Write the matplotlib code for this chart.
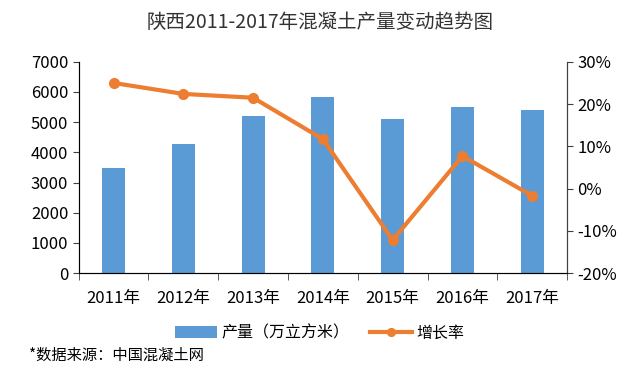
import matplotlib
matplotlib.use("Agg")
import matplotlib.pyplot as plt
import numpy as np

plt.rcParams['font.family'] = ['Noto Sans CJK SC', 'DejaVu Sans']

years = ['2011年', '2012年', '2013年', '2014年', '2015年', '2016年', '2017年']
production = [3480, 4280, 5200, 5820, 5110, 5500, 5410]
growth = [25.0, 22.4, 21.5, 11.7, -12.2, 7.7, -1.7]

bar_color = '#5B9BD5'
line_color = '#ED7D31'

fig = plt.figure(figsize=(6.4, 3.68), dpi=100)
ax = fig.add_axes([0.123, 0.258, 0.763, 0.574])
x = np.arange(len(years))
bars = ax.bar(x, production, width=0.33, color=bar_color, label='产量（万立方米）', zorder=2)
ax.set_xlim(-0.5, len(years) - 0.5)
ax.set_ylim(0, 7000)
ax.set_yticks(range(0, 7001, 1000))
ax.tick_params(axis='y', labelsize=12, length=4, direction='out', color='#404040')
ax.set_xticks(x)
ax.set_xticklabels(years, fontsize=12)
ax.set_xticks(np.arange(-0.5, len(years), 1), minor=True)
ax.tick_params(axis='x', which='major', length=0, pad=12)
ax.tick_params(axis='x', which='minor', length=5, color='#404040')
ax.spines['top'].set_visible(False)
for s in ['left', 'bottom', 'right']:
    ax.spines[s].set_color('#404040')

ax2 = ax.twinx()
line, = ax2.plot(x, growth, color=line_color, lw=3, marker='o', ms=7, label='增长率', zorder=3)
ax2.set_ylim(-20, 30)
ax2.set_yticks(range(-20, 31, 10))
ax2.set_yticklabels([f'{v}%' for v in range(-20, 31, 10)])
ax2.tick_params(axis='y', labelsize=12, length=4, direction='out', color='#404040')
ax2.spines['top'].set_visible(False)
ax2.spines['right'].set_color('#404040')

fig.text(0.5, 0.94, '陕西2011-2017年混凝土产量变动趋势图', ha='center', va='center', fontsize=14, color='#333333')
fig.legend([bars, line], ['产量（万立方米）', '增长率'], loc='center', bbox_to_anchor=(0.5, 0.095),
           ncol=2, frameon=False, fontsize=11.5, handlelength=2.6, columnspacing=1.3, handletextpad=0.3,
           markerscale=0.8)
fig.text(0.045, 0.035, '*数据来源：中国混凝土网', ha='left', va='center', fontsize=11)

fig.savefig('out.png', dpi=100)
